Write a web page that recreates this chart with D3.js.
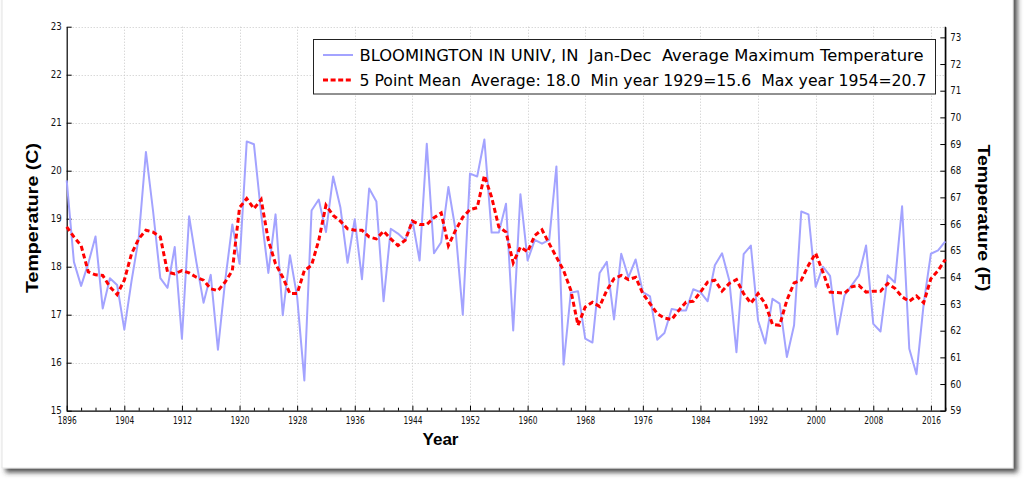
<!DOCTYPE html>
<html>
<head>
<meta charset="utf-8">
<script src="https://cdn.jsdelivr.net/npm/d3@7"></script>
<style>
    body { margin: 0; background: #ffffff; }
    svg { display: block; }
</style>
</head>
<body>
<div class="chartDiv"></div>
<script>
// yearly values, 1896 .. 2018
const startYear = 1896;
const endYear = 2018;

const annualMax = [
    19.8, 18.1, 17.6, 18.07, 18.63, 17.13, 17.76, 17.62, 16.69, 17.7,
    18.6, 20.39, 19.15, 17.76, 17.56, 18.41, 16.5, 19.05, 18.1, 17.25,
    17.83, 16.27, 17.7, 18.88, 18.06, 20.61, 20.55, 19.1, 17.87, 19.09,
    16.99, 18.24, 17.37, 15.63, 19.17, 19.4, 18.72, 19.88, 19.24, 18.08,
    18.99, 17.74, 19.63, 19.36, 17.28, 18.79, 18.69, 18.55, 18.97, 18.13,
    20.56, 18.28, 18.51, 19.66, 18.76, 17.0, 19.94, 19.88, 20.65, 18.71,
    18.71, 19.31, 16.67, 19.51, 18.13, 18.56, 18.48, 18.56, 20.09, 15.96,
    17.46, 17.49, 16.5, 16.42, 17.87, 18.1, 16.9, 18.27, 17.78, 18.15,
    17.47, 17.38, 16.48, 16.62, 17.12, 17.09, 17.09, 17.53, 17.47, 17.28,
    18.03, 18.28, 17.72, 16.22, 18.26, 18.44, 16.88, 16.4, 17.33, 17.23,
    16.12, 16.78, 19.15, 19.09, 17.58, 18.0, 17.81, 16.59, 17.4, 17.61,
    17.82, 18.44, 16.81, 16.65, 17.82, 17.67, 19.26, 16.29, 15.76, 17.23,
    18.27, 18.34, 18.53
];

const fivePointMean = [
    18.83, 18.62, 18.44, 17.89, 17.83, 17.82, 17.58, 17.42, 17.72, 18.27,
    18.58, 18.76, 18.72, 18.62, 17.89, 17.85, 17.92, 17.87, 17.78, 17.72,
    17.54, 17.5, 17.68, 17.92, 19.23, 19.42, 19.21, 19.4, 18.55, 18.06,
    17.78, 17.44, 17.44, 17.92, 18.03, 18.55, 19.28, 19.07, 18.95, 18.79,
    18.76, 18.76, 18.62, 18.58, 18.74, 18.58, 18.44, 18.55, 18.95, 18.88,
    18.88, 19.02, 19.12, 18.44, 18.76, 19.03, 19.19, 19.23, 19.9, 19.45,
    18.83, 18.72, 18.08, 18.41, 18.31, 18.65, 18.77, 18.48, 18.2, 17.92,
    17.51, 16.78, 17.16, 17.26, 17.17, 17.51, 17.75, 17.82, 17.73, 17.78,
    17.44, 17.23, 17.02, 16.93, 16.9, 17.09, 17.26, 17.28, 17.47, 17.68,
    17.72, 17.49, 17.65, 17.73, 17.44, 17.24, 17.44, 17.23, 16.8, 16.78,
    17.3, 17.66, 17.72, 18.03, 18.28, 17.89, 17.47, 17.46, 17.45, 17.58,
    17.61, 17.47, 17.49, 17.49, 17.65, 17.55, 17.37, 17.28, 17.39, 17.25,
    17.75, 17.92, 18.15
];

const yearTicks = [1896, 1904, 1912, 1920, 1928, 1936, 1944, 1952, 1960, 1968, 1976, 1984, 1992, 2000, 2008, 2016];
const celsiusTicks = [15, 16, 17, 18, 19, 20, 21, 22, 23];
const fahrenheitTicks = [59, 60, 61, 62, 63, 64, 65, 66, 67, 68, 69, 70, 71, 72, 73];

const legendLabels = [
    'BLOOMINGTON IN UNIV, IN  Jan-Dec  Average Maximum Temperature',
    '5 Point Mean  Average: 18.0  Min year 1929=15.6  Max year 1954=20.7'
];

const chartWidth = 1024;
const chartHeight = 479;

const plotLeft = 66.7;
const plotRight = 945.3;
const plotTop = 26.7;
const plotBottom = 410.7;

const blueColor = '#a3a3ff';
const redColor = '#ff0000';
const tickFont = '"DejaVu Sans", sans-serif';
const labelFont = '"Liberation Sans", Arial, sans-serif';

var svg = d3.select('.chartDiv')
    .append('svg')
    .attr('width', chartWidth)
    .attr('height', chartHeight);

// window panel with shadow
const defs = svg.append('defs');
const shadow = defs.append('filter')
    .attr('id', 'panelShadow')
    .attr('x', '-5%').attr('y', '-5%')
    .attr('width', '110%').attr('height', '110%');
shadow.append('feDropShadow')
    .attr('dx', 4)
    .attr('dy', 4)
    .attr('stdDeviation', 2.5)
    .attr('flood-color', '#333')
    .attr('flood-opacity', 0.85);

svg.append('rect')
    .attr('x', 2)
    .attr('y', -20)
    .attr('width', 1011)
    .attr('height', 488)
    .attr('fill', '#ffffff')
    .attr('stroke', '#e4e4e4')
    .attr('filter', 'url(#panelShadow)');

const years = d3.range(startYear, endYear + 1);
const seriesBlue = years.map((y, i) => ({year: y, value: annualMax[i]}));
const seriesRed = years.map((y, i) => ({year: y, value: fivePointMean[i]}));

const x = d3.scaleLinear()
    .domain([startYear, endYear])
    .range([plotLeft, plotRight]);

const yC = d3.scaleLinear()
    .domain([15, 23])
    .range([plotBottom, plotTop]);

const yF = d3.scaleLinear()
    .domain([59, 23 * 9 / 5 + 32])
    .range([plotBottom, plotTop]);

// grid
const grid = svg.append('g')
    .attr('stroke', '#c8c8c8')
    .attr('stroke-width', 1)
    .attr('stroke-dasharray', '1,2');

grid.selectAll('.vgrid')
    .data(yearTicks.slice(1))
    .enter()
    .append('line')
    .attr('x1', d => Math.round(x(d)) + 0.5)
    .attr('x2', d => Math.round(x(d)) + 0.5)
    .attr('y1', plotTop)
    .attr('y2', plotBottom);

grid.selectAll('.hgrid')
    .data(celsiusTicks.slice(1))
    .enter()
    .append('line')
    .attr('x1', plotLeft)
    .attr('x2', plotRight)
    .attr('y1', d => Math.round(yC(d)) + 0.5)
    .attr('y2', d => Math.round(yC(d)) + 0.5);

// axes
function styleAxis(g, fontSize) {
    g.select('.domain').attr('stroke', '#000').attr('stroke-width', 1.2);
    g.selectAll('.tick line').attr('stroke', '#000');
    g.selectAll('text')
        .attr('fill', '#111')
        .style('font-family', tickFont)
        .style('font-size', fontSize + 'px');
}

const minorYears = d3.range(startYear, endYear + 1, 2).filter(d => !yearTicks.includes(d));

svg.append('g')
    .attr('transform', `translate(0,${plotBottom})`)
    .call(d3.axisBottom(x).tickValues(minorYears).tickSize(-3).tickFormat(''))
    .call(g => g.select('.domain').remove())
    .call(g => g.selectAll('.tick line').attr('stroke', '#000'));

svg.append('g')
    .attr('transform', `translate(0,${plotBottom})`)
    .call(d3.axisBottom(x).tickValues(yearTicks).tickSize(-5).tickSizeOuter(0).tickPadding(6).tickFormat(d3.format('d')))
    .call(g => styleAxis(g, 10))
    .call(g => g.selectAll('text').attr('textLength', 19).attr('lengthAdjust', 'spacingAndGlyphs'));

svg.append('g')
    .attr('transform', `translate(${plotLeft},0)`)
    .call(d3.axisLeft(yC).tickValues(celsiusTicks).tickSize(-5).tickSizeOuter(0).tickPadding(5).tickFormat(d3.format('d')))
    .call(g => styleAxis(g, 10))
    .call(g => g.selectAll('text').attr('textLength', 11).attr('lengthAdjust', 'spacingAndGlyphs'));

svg.append('g')
    .attr('transform', `translate(${plotRight},0)`)
    .call(d3.axisRight(yF).tickValues(fahrenheitTicks).tickSize(-5).tickSizeOuter(0).tickPadding(5).tickFormat(d3.format('d')))
    .call(g => styleAxis(g, 10))
    .call(g => g.selectAll('text').attr('textLength', 11).attr('lengthAdjust', 'spacingAndGlyphs'));

// right axis line over full plot height
svg.append('line')
    .attr('x1', plotRight).attr('x2', plotRight)
    .attr('y1', plotTop).attr('y2', plotBottom)
    .attr('stroke', '#000').attr('stroke-width', 1.2);

// data lines
const line = d3.line()
    .x(d => x(d.year))
    .y(d => yC(d.value));

svg.append('path')
    .datum(seriesBlue)
    .attr('fill', 'none')
    .attr('stroke', blueColor)
    .attr('stroke-width', 2)
    .attr('stroke-linejoin', 'round')
    .attr('d', line);

svg.append('path')
    .datum(seriesRed)
    .attr('fill', 'none')
    .attr('stroke', redColor)
    .attr('stroke-width', 3)
    .attr('stroke-dasharray', '5,3')
    .attr('d', line);

// axis titles
svg.append('text')
    .attr('x', 440.5)
    .attr('y', 445)
    .attr('text-anchor', 'middle')
    .style('font-family', labelFont)
    .style('font-weight', 'bold')
    .style('font-size', '17px')
    .attr('textLength', 36)
    .attr('lengthAdjust', 'spacingAndGlyphs')
    .text('Year');

svg.append('text')
    .attr('transform', 'translate(37.5,218) rotate(-90)')
    .attr('text-anchor', 'middle')
    .style('font-family', labelFont)
    .style('font-weight', 'bold')
    .style('font-size', '17px')
    .attr('textLength', 150)
    .attr('lengthAdjust', 'spacingAndGlyphs')
    .text('Temperature (C)');

svg.append('text')
    .attr('transform', 'translate(977.5,218) rotate(90)')
    .attr('text-anchor', 'middle')
    .style('font-family', labelFont)
    .style('font-weight', 'bold')
    .style('font-size', '17px')
    .attr('textLength', 147)
    .attr('lengthAdjust', 'spacingAndGlyphs')
    .text('Temperature (F)');

// legend
const legend = svg.append('g');

legend.append('rect')
    .attr('x', 313.5)
    .attr('y', 39.5)
    .attr('width', 622)
    .attr('height', 54.5)
    .attr('fill', '#ffffff')
    .attr('stroke', '#222')
    .attr('stroke-width', 1);

const legendRows = [
    {label: legendLabels[0], color: blueColor, width: 2, dash: null, y: 55, len: 564},
    {label: legendLabels[1], color: redColor, width: 3, dash: '5,2.6', y: 80, len: 567}
];

legend.selectAll('line.key')
    .data(legendRows)
    .enter()
    .append('line')
    .attr('class', 'key')
    .attr('x1', 323)
    .attr('x2', 353)
    .attr('y1', d => d.y)
    .attr('y2', d => d.y)
    .attr('stroke', d => d.color)
    .attr('stroke-width', d => d.width)
    .attr('stroke-dasharray', d => d.dash);

legend.selectAll('text.key')
    .data(legendRows)
    .enter()
    .append('text')
    .attr('class', 'key')
    .attr('x', 359.5)
    .attr('y', d => d.y + 5.5)
    .attr('fill', '#000')
    .style('font-family', tickFont)
    .style('font-size', '15px')
    .style('white-space', 'pre')
    .attr('textLength', d => d.len)
    .attr('lengthAdjust', 'spacingAndGlyphs')
    .text(d => d.label);
</script>
</body>
</html>
